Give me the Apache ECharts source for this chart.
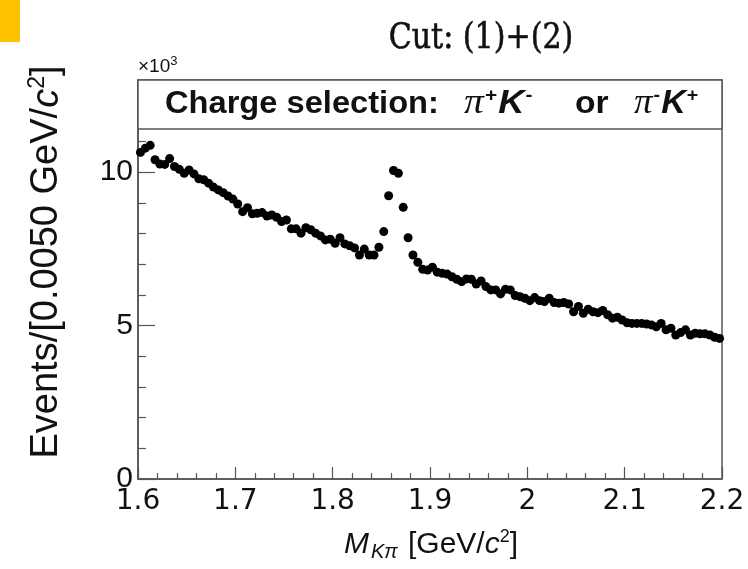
<!DOCTYPE html>
<html><head><meta charset="utf-8">
<script src="https://cdn.jsdelivr.net/npm/echarts@6/dist/echarts.min.js"></script>
<style>html,body{margin:0;padding:0;background:#fff}#c{width:748px;height:569px}</style>
</head><body><div id="c"></div>
<script>
// bin centres: 0.005 GeV bins from 1.6 to 2.2
const binLow = 1.6, binWidth = 0.005;
// events per bin, in units of 10^3
const events = [
10.64,10.78,10.87,10.40,10.26,10.25,10.44,10.18,10.09,9.96,
10.07,9.94,9.78,9.75,9.64,9.51,9.42,9.33,9.22,9.12,
8.96,8.71,8.84,8.64,8.66,8.68,8.57,8.60,8.53,8.39,
8.44,8.15,8.15,8.01,8.19,8.12,8.01,7.92,7.79,7.81,
7.68,7.86,7.66,7.60,7.53,7.30,7.49,7.30,7.30,7.55,
8.06,9.23,10.05,9.96,8.85,7.86,7.30,7.06,6.83,6.81,
6.90,6.74,6.70,6.68,6.59,6.51,6.43,6.52,6.51,6.35,
6.45,6.27,6.16,6.16,6.03,6.18,6.16,5.98,5.94,5.89,
5.81,5.91,5.81,5.78,5.89,5.75,5.73,5.75,5.70,5.45,
5.62,5.40,5.53,5.45,5.42,5.49,5.35,5.24,5.27,5.18,
5.09,5.07,5.07,5.07,5.05,5.02,4.96,5.07,4.86,4.91,
4.69,4.77,4.86,4.69,4.75,4.73,4.73,4.69,4.62,4.58
];
const xTicks = [1.6,1.7,1.8,1.9,2.0,2.1,2.2];
const yTicks = [0,5,10];

const pts = events.map((v,i)=>[+(binLow + (i+0.5)*binWidth).toFixed(4), v]);

const chart = echarts.init(document.getElementById('c'), null, {renderer:'canvas'});
const frame = '#555';
const sans = '"Liberation Sans", Arial, sans-serif';
const serif = '"Liberation Serif", serif';
const boxRich = {
  b:{fontFamily:sans,fontWeight:'bold',fontSize:32,fill:'#111'},
  p:{fontFamily:serif,fontStyle:'italic',fontSize:36,fill:'#111'},
  k:{fontFamily:sans,fontStyle:'italic',fontWeight:'bold',fontSize:33,fill:'#111'},
  s:{fontFamily:sans,fontWeight:'bold',fontSize:19,fill:'#111',padding:[0,1,16,1]}
};
function boxText(x, sx, text){
  return {type:'text',x:x,y:104,z:11,scaleX:sx,style:{text:text,align:'left',verticalAlign:'middle',rich:boxRich}};
}
chart.setOption({
  animation:false,
  backgroundColor:'#fff',
  grid:{left:138,right:26,top:80,bottom:90,show:true,borderColor:frame,borderWidth:1.5,backgroundColor:'transparent'},
  xAxis:{type:'value',min:1.6,max:2.2,interval:0.1,
    axisLine:{lineStyle:{color:frame,width:1.5}},
    axisTick:{inside:true,length:12,lineStyle:{color:frame,width:1.2}},
    minorTick:{show:true,splitNumber:5,length:6,lineStyle:{color:frame,width:1.2}},
    splitLine:{show:false},
    axisLabel:{color:'#111',fontFamily:'"DejaVu Sans", sans-serif',fontSize:28,margin:9,
      formatter:v=>{const t=xTicks.find(x=>Math.abs(x-v)<1e-6);return t===undefined?'':String(+t.toFixed(1));}},
    name:''
  },
  yAxis:{type:'value',min:0,max:13,interval:5,
    axisLine:{lineStyle:{color:frame,width:1.5}},
    axisTick:{inside:true,length:17,lineStyle:{color:frame,width:1.2}},
    minorTick:{show:true,splitNumber:5,length:8,lineStyle:{color:frame,width:1.2}},
    splitLine:{show:false},
    axisLabel:{color:'#111',fontFamily:sans,fontSize:30,margin:5,showMaxLabel:false,
      formatter:v=>yTicks.includes(v)?String(v):''},
    name:''
  },
  series:[{type:'scatter',data:pts,symbol:'circle',symbolSize:9,itemStyle:{color:'#000',opacity:1},z:3}],
  graphic:[
    {type:'rect',left:0,top:0,shape:{width:20,height:42},style:{fill:'#FFC000'}},
    {type:'text',x:481,y:39,scaleX:0.86,style:{text:'Cut: (1)+(2)',font:'35px "DejaVu Serif", serif',fill:'#111',stroke:'#111',lineWidth:0.6,align:'center',verticalAlign:'middle'}},
    {type:'text',left:138,top:55,style:{text:'×10{s|3}',fill:'#111',font:'19px "Liberation Sans", Arial, sans-serif',
      rich:{s:{fontSize:13,fontFamily:sans,fill:'#111',padding:[0,0,10,0]}}}},
    {type:'rect',shape:{x:138,y:80,width:584,height:49},style:{fill:'#fff',stroke:frame,lineWidth:1.5},z:10},
    boxText(165,1.02,'{b|Charge selection:}'),
    boxText(464,1.1,'{p|π}{s|+}{k|K}{s|-}'),
    boxText(575,1.05,'{b|or}'),
    boxText(634,1.03,'{p|π}{s|-}{k|K}{s|+}'),
    {type:'text',x:47,y:262,rotation:Math.PI/2,style:{text:'Events/[0.0050 GeV/{it|c}{sup|2}]',
      align:'center',verticalAlign:'middle',font:'38px "Liberation Sans", Arial, sans-serif',fill:'#111',
      rich:{it:{fontStyle:'italic',fontFamily:sans,fontSize:38,fill:'#111'},
            sup:{fontFamily:sans,fontSize:23,fill:'#111',padding:[0,0,18,0]}}}},
    {type:'text',x:431,y:545,style:{text:'{it|M}{sub|Kπ} [GeV/{it|c}{sup|2}]',
      align:'center',verticalAlign:'middle',font:'30px "Liberation Sans", Arial, sans-serif',fill:'#111',
      rich:{it:{fontStyle:'italic',fontFamily:sans,fontSize:30,fill:'#111'},
            sub:{fontStyle:'italic',fontFamily:sans,fontSize:20,fill:'#111',padding:[14,2,0,2]},
            sup:{fontFamily:sans,fontSize:18,fill:'#111',padding:[0,0,16,0]}}}}
  ]
});
</script></body></html>
